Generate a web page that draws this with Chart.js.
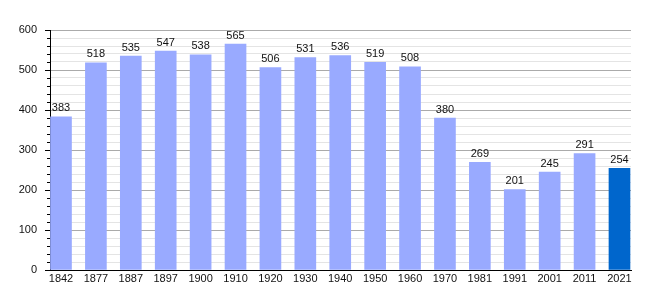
<!DOCTYPE html>
<html>
<head>
<meta charset="utf-8">
<script src="https://cdn.jsdelivr.net/npm/chart.js@4/dist/chart.umd.min.js"></script>
<style>
  html, body { margin: 0; padding: 0; background: #fff; }
  #wrap { width: 660px; height: 300px; }
</style>
</head>
<body>
<div id="wrap"><canvas id="popChart" width="660" height="300"></canvas></div>
<script>
// Population by census year
const years = ['1842', '1877', '1887', '1897', '1900', '1910', '1920', '1930', '1940',
               '1950', '1960', '1970', '1981', '1991', '2001', '2011', '2021'];
const population = [383, 518, 535, 547, 538, 565, 506, 531, 536,
                    519, 508, 380, 269, 201, 245, 291, 254];

const barColor = '#99aaff';
const lastColor = '#0066cc';
const FONT = 'Liberation Sans, Arial, sans-serif';

const isMajor = (v) => v % 100 === 0;

// value labels above each bar
const valueLabels = {
    id: 'valueLabels',
    afterDatasetsDraw(chart) {
        const ctx = chart.ctx;
        const meta = chart.getDatasetMeta(0);
        ctx.save();
        ctx.font = '11px ' + FONT;
        ctx.fillStyle = '#111';
        ctx.textAlign = 'center';
        ctx.textBaseline = 'bottom';
        meta.data.forEach((bar, i) => {
            ctx.fillText(String(population[i]), bar.x, bar.y - 3);
        });
        ctx.restore();
    }
};

// shorter tick marks for the minor steps on the y axis
const minorTicks = {
    id: 'minorTicks',
    afterDraw(chart) {
        const y = chart.scales.y;
        const ctx = chart.ctx;
        ctx.save();
        ctx.strokeStyle = '#000';
        ctx.lineWidth = 1;
        y.ticks.forEach((t) => {
            if (isMajor(t.value)) return;
            const py = Math.round(y.getPixelForValue(t.value)) + 0.5;
            ctx.beginPath();
            ctx.moveTo(y.right - 3, py);
            ctx.lineTo(y.right, py);
            ctx.stroke();
        });
        ctx.restore();
    }
};

new Chart(document.getElementById('popChart'), {
    type: 'bar',
    data: {
        datasets: [{
            data: population.map((v, i) => ({ x: i, y: v })),
            backgroundColor: population.map((v, i) => i === population.length - 1 ? lastColor : barColor),
            barThickness: 21,
            borderWidth: 0
        }]
    },
    options: {
        responsive: false,
        animation: false,
        layout: { padding: { top: 30, right: 29, left: 0, bottom: 0 } },
        plugins: {
            legend: { display: false },
            tooltip: { enabled: false }
        },
        scales: {
            x: {
                type: 'linear',
                offset: false,
                min: -0.315,
                max: 16.33,
                afterBuildTicks(scale) {
                    scale.ticks = years.map((y, i) => ({ value: i }));
                },
                afterFit(scale) { scale.height = 30; },
                ticks: {
                    autoSkip: false,
                    maxRotation: 0,
                    padding: 2,
                    color: '#111',
                    font: { family: FONT, size: 11 },
                    callback: (value) => years[value]
                },
                grid: { display: false, drawTicks: false },
                border: { display: true, color: '#000', width: 1 }
            },
            y: {
                min: 0,
                max: 600,
                afterFit(scale) { scale.width = 50; },
                ticks: {
                    stepSize: 20,
                    autoSkip: false,
                    padding: 8,
                    color: '#111',
                    font: { family: FONT, size: 11 },
                    callback: (value) => isMajor(value) ? value : ''
                },
                grid: {
                    color: (c) => c.tick && isMajor(c.tick.value) ? '#aaaaaa' : '#e4e4e4',
                    tickColor: (c) => c.tick && isMajor(c.tick.value) ? '#000' : 'rgba(0,0,0,0)',
                    tickLength: 5,
                    lineWidth: 1
                },
                border: { display: true, color: '#000', width: 1 }
            }
        }
    },
    plugins: [valueLabels, minorTicks]
});
</script>
</body>
</html>
